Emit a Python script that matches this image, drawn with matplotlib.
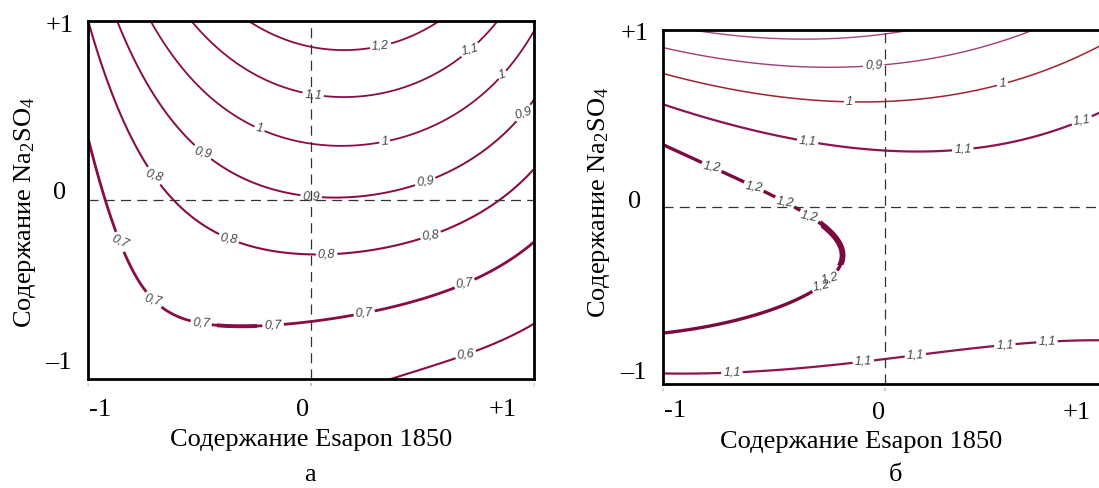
import numpy as np
import matplotlib
matplotlib.use("Agg")
import matplotlib.pyplot as plt
from matplotlib.patches import Rectangle

plt.rcParams['font.family'] = ['Liberation Serif', 'DejaVu Serif']
plt.rcParams['mathtext.fontset'] = 'custom'
plt.rcParams['mathtext.rm'] = 'Liberation Serif'
plt.rcParams['mathtext.it'] = 'Liberation Serif:italic'

# ---------------- data ----------------
tick_vals = [-1, 0, 1]
xtick_text = ["-1", "0", "+1"]
ytick_text = ["+1", "0", "\u20131"]
x_label = "Содержание Esapon 1850"
y_label = "Содержание Na$_2$SO$_4$"
panel_names = ["а", "б"]

# panel (a): points (level, x, y)
a_levels = [0.6, 0.7, 0.8, 0.9, 1.0, 1.1, 1.2]
a_pt_level = ([1.2] * 6 + [1.1] * 7 + [1.0] * 10 + [0.9] * 9 + [0.8] * 9
              + [0.7] * 8 + [0.6] * 3)
a_pt_x = [-0.27, -0.14, 0.0, 0.16, 0.31, 0.57,
          -0.53, -0.14, 0.01, 0.16, 0.46, 0.76, 0.83,
          -0.72, -0.56, -0.23, -0.14, 0.0, 0.16, 0.33, 0.65, 0.84, 1.0,
          -0.87, -0.75, -0.49, -0.14, 0.0, 0.16, 0.51, 0.82, 1.0,
          -1.0, -0.90, -0.71, -0.59, -0.37, 0.04, 0.54, 0.79, 1.0,
          -1.0, -0.87, -0.70, -0.50, -0.13, 0.22, 0.69, 1.0,
          0.35, 0.69, 1.0]
a_pt_y = [1.0, 0.905, 0.855, 0.84, 0.865, 1.0,
          1.0, 0.65, 0.59, 0.58, 0.64, 0.77, 1.0,
          1.0, 0.70, 0.40, 0.37, 0.32, 0.30, 0.33, 0.50, 0.72, 0.97,
          1.0, 0.65, 0.26, 0.056, 0.01, 0.0, 0.11, 0.32, 0.56,
          1.0, 0.60, 0.13, 0.0, -0.22, -0.32, -0.21, 0.0, 0.17,
          0.43, -0.24, -0.56, -0.67, -0.70, -0.64, -0.46, -0.25,
          -1.0, -0.85, -0.71]

# panel (б): response read as ridge height, curvature and ridge position vs x
b_levels = [0.8, 0.9, 1.0, 1.1, 1.2]
b_peak_coef = [1.186, -0.0645, 0.0455]
b_curv_coef = [0.248, -0.091]
b_ridge_coef = [-0.27, 0.04, 0.13]

# ---------------- style ----------------
a_label_pos = {
    1.2: [(0.31, 0.87)],
    1.1: [(0.01, 0.59), (0.76, 0.77)],
    1.0: [(-0.23, 0.40), (0.33, 0.33), (0.84, 0.72)],
    0.9: [(-0.49, 0.26), (0.0, 0.01), (0.51, 0.11), (0.92, 0.52)],
    0.8: [(-0.71, 0.13), (-0.37, -0.22), (0.07, -0.31), (0.54, -0.21)],
    0.7: [(-0.87, -0.24), (-0.70, -0.55), (-0.49, -0.67), (-0.17, -0.70),
          (0.24, -0.64), (0.69, -0.47)],
    0.6: [(0.69, -0.85)],
}
b_label_pos = {
    0.8: [],
    0.9: [(-0.05, 0.785)],
    1.0: [(-0.16, 0.59), (0.53, 0.69)],
    1.1: [(-0.35, 0.36), (0.35, 0.33), (0.86, 0.57),
          (-0.69, -0.91), (-0.10, -0.85), (0.135, -0.82), (0.54, -0.785), (0.73, -0.77)],
    1.2: [(-0.79, 0.20), (-0.60, 0.09), (-0.455, 0.02), (-0.35, -0.07),
          (-0.28, -0.36), (-0.30, -0.42)],
}
a_colors = ['#8a0c46'] * 7
a_widths = [1.5, 2.0, 1.5, 1.4, 1.3, 1.3, 1.3]
b_colors = ['#a8457c', '#a33c76', '#a22230', '#8c1450', '#7d0a3e']
b_widths = [1.0, 1.0, 1.1, 1.6, 2.4]

W, H = 1099, 488


def fx(px):
    return px / W


def fy(py):
    return 1 - py / H


def fmt(v):
    return ('%g' % v).replace('.', ',')


def terms(x, y, deg=3):
    return np.stack([x ** i * y ** j for i in range(deg + 1)
                     for j in range(deg + 1 - i)], axis=-1)


fig = plt.figure(figsize=(W / 100, H / 100), dpi=100)
ax1 = fig.add_axes([fx(88), fy(379), fx(534) - fx(88), fy(21) - fy(379)])
ax2 = fig.add_axes([fx(663), fy(384), fx(1107) - fx(663), fy(30) - fy(384)])

g = np.linspace(-1, 1, 500)
X, Y = np.meshgrid(g, g)

# panel a surface: least squares cubic through the read contour points
coef, *_ = np.linalg.lstsq(terms(np.array(a_pt_x), np.array(a_pt_y)),
                           np.array(a_pt_level), rcond=None)
Za = terms(X, Y) @ coef

# panel b surface
P = np.polynomial.polynomial
Zb = P.polyval(X, b_peak_coef) - P.polyval(X, b_curv_coef) * (Y - P.polyval(X, b_ridge_coef)) ** 2


def draw(ax, Z, levels, colors, widths, label_pos):
    for lev, c, w in zip(levels, colors, widths):
        cs = ax.contour(X, Y, Z, levels=[lev], colors=[c], linewidths=[w])
        pos = label_pos.get(lev, [])
        if pos:
            with plt.rc_context({'font.family': 'Liberation Sans', 'font.style': 'italic'}):
                texts = ax.clabel(cs, manual=pos, inline=True, inline_spacing=2,
                                  fmt=fmt, fontsize=9, colors='#454545')
            for t in texts:
                r = t.get_rotation()
                r = (r + 180) % 360 - 180
                t.set_rotation(r * 0.35)
    ax.axhline(0, color='#333333', lw=0.9, ls=(0, (8, 5)))
    ax.axvline(0, color='#333333', lw=0.9, ls=(0, (8, 5)))
    ax.set_xlim(-1, 1)
    ax.set_ylim(-1, 1)
    ax.set_xticks([])
    ax.set_yticks([])
    for s in ax.spines.values():
        s.set_linewidth(2.0)
        s.set_color('black')


draw(ax1, Za, a_levels, a_colors, a_widths, a_label_pos)
draw(ax2, Zb, b_levels, b_colors, b_widths, b_label_pos)
ax2.spines['right'].set_visible(False)

# heavier stroke near the tip of the 1,2 contour (panel б), clear of its labels
tip_clip = Rectangle((-0.29, -0.33), 0.25, 0.27, transform=ax2.transData)
cs_tip = ax2.contour(X, Y, Zb, levels=[b_levels[-1]], colors=[b_colors[-1]], linewidths=[4.2])
cs_tip.set_clip_path(tip_clip)
# heavier stroke on the lower part of the 0,7 contour (panel а), clear of its labels
low_clip = Rectangle((-0.42, -0.76), 0.18, 0.16, transform=ax1.transData)
cs_low = ax1.contour(X, Y, Za, levels=[a_levels[1]], colors=[a_colors[1]], linewidths=[2.8])
cs_low.set_clip_path(low_clip)

fs = 19


def tick_text(ax, xoffs, yoffs, tiny):
    for v, s, (dx, dy), tn in zip(tick_vals, xtick_text, xoffs, tiny):
        ax.annotate(s, xy=(v, -1), xycoords='data', xytext=(dx, dy),
                    textcoords='offset pixels', ha='center', va='center',
                    fontsize=fs, annotation_clip=False)
        if tn:
            ax.annotate(str(abs(v)), xy=(v, -1), xycoords='data', xytext=(0, -6),
                        textcoords='offset pixels', ha='center', va='center',
                        fontsize=3, color='#555555', annotation_clip=False)
    for v, s, (dx, dy) in zip(tick_vals[::-1], ytick_text, yoffs):
        ax.annotate(s, xy=(-1, v), xycoords='data', xytext=(dx, dy),
                    textcoords='offset pixels', ha='center', va='center',
                    fontsize=fs, annotation_clip=False)


tick_text(ax1, [(12, -31), (-8, -31), (-31, -31)], [(-28, -5), (-28, 7), (-30, 16)],
          [True, True, True])
tick_text(ax2, [(12, -27), (-6, -29), (-30, -29)], [(-28, -4), (-28, 5), (-30, 11)],
          [True, True, False])

fig.text(fx(311), fy(440), x_label, ha='center', va='center', fontsize=fs)
fig.text(fx(310), fy(475), panel_names[0], ha='center', va='center', fontsize=fs)
fig.text(fx(25), fy(212), y_label, ha='center', va='center', fontsize=fs, rotation=90)

fig.text(fx(861), fy(442), x_label, ha='center', va='center', fontsize=fs)
fig.text(fx(896), fy(475), panel_names[1], ha='center', va='center', fontsize=fs)
fig.text(fx(599), fy(202), y_label, ha='center', va='center', fontsize=fs, rotation=90)

fig.savefig("out.png", dpi=100)
